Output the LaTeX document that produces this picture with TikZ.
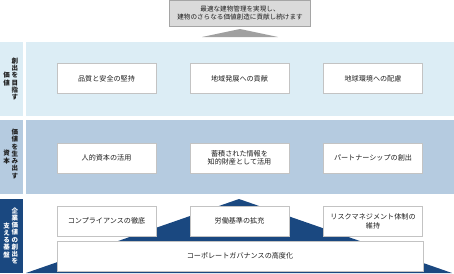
\documentclass[tikz,border=0pt]{standalone}
\usepackage{fontspec}
\newfontfamily\jp{Noto Sans CJK JP}
\definecolor{bandA}{RGB}{220,237,245}
\definecolor{bandB}{RGB}{181,203,224}
\definecolor{darkblue}{RGB}{26,72,128}
\definecolor{boxline}{RGB}{195,195,195}
\definecolor{topfill}{RGB}{218,218,218}
\definecolor{topline}{RGB}{165,165,165}
\definecolor{trigray}{RGB}{160,160,160}
\definecolor{txt}{RGB}{30,30,30}
\begin{document}
\begin{tikzpicture}[x=1pt,y=-1pt,
  box/.style={draw=boxline, line width=0.8pt, fill=white, minimum width=99pt, minimum height=30pt,
    inner sep=1pt, align=center, text=txt, font=\jp\fontsize{7.1}{8.6}\selectfont},
  vlab/.style={align=center, inner sep=0pt, text=txt, font=\jp\bfseries\fontsize{6.5}{7.25}\selectfont}]
\useasboundingbox (0,0) rectangle (454,273);
% bands
\fill[bandA] (0,42) rectangle (23,116);
\fill[bandA] (26,42) rectangle (454,116);
\fill[bandB] (0,120) rectangle (23,194);
\fill[bandB] (26,120) rectangle (454,194);
\fill[darkblue] (0,199) rectangle (23,273);
% mountain
\fill[darkblue] (26,273) -- (239,199) -- (452,273) -- cycle;
% goal
\node[draw=topline, fill=topfill, line width=0.8pt, minimum width=141pt, minimum height=26pt, inner sep=1pt,
  align=center, text=txt, font=\jp\fontsize{6.6}{8.2}\selectfont] (goal) at (240,13)
  {最適な建物管理を実現し、\\建物のさらなる価値創造に貢献し続けます};
\fill[trigray] (202,37) -- (240,29) -- (278,37) -- cycle;
% labels
\node[vlab] (l1a) at (15,79) {創\\出\\を\\目\\指\\す};
\node[vlab] (l1b) at (6.5,79) {価\\値};
\node[vlab] (l2a) at (15,154) {価\\値\\を\\生\\み\\出\\す};
\node[vlab] (l2b) at (6.5,157) {資\\本};
\node[vlab, text=white] (l3a) at (15,236) {企\\業\\価\\値\\の\\創\\出\\を};
\node[vlab, text=white] (l3b) at (6.5,240) {支\\え\\る\\基\\盤};
% row 1
\node[box] (v1) at (106.5,78.5) {品質と安全の堅持};
\node[box] (v2) at (239.5,78.5) {地域発展への貢献};
\node[box] (v3) at (373,78.5) {地球環境への配慮};
% row 2
\node[box] (c1) at (106.5,158) {人的資本の活用};
\node[box] (c2) at (239.5,158) {蓄積された情報を\\知的財産として活用};
\node[box] (c3) at (373,158) {パートナーシップの創出};
% row 3
\node[box] (f1) at (106.5,221) {コンプライアンスの徹底};
\node[box] (f2) at (239.5,221) {労働基準の拡充};
\node[box] (f3) at (373,221.5) {リスクマネジメント体制の\\維持};
\node[box, minimum width=366pt] (f4) at (240,256) {コーポレートガバナンスの高度化};
\end{tikzpicture}
\end{document}
